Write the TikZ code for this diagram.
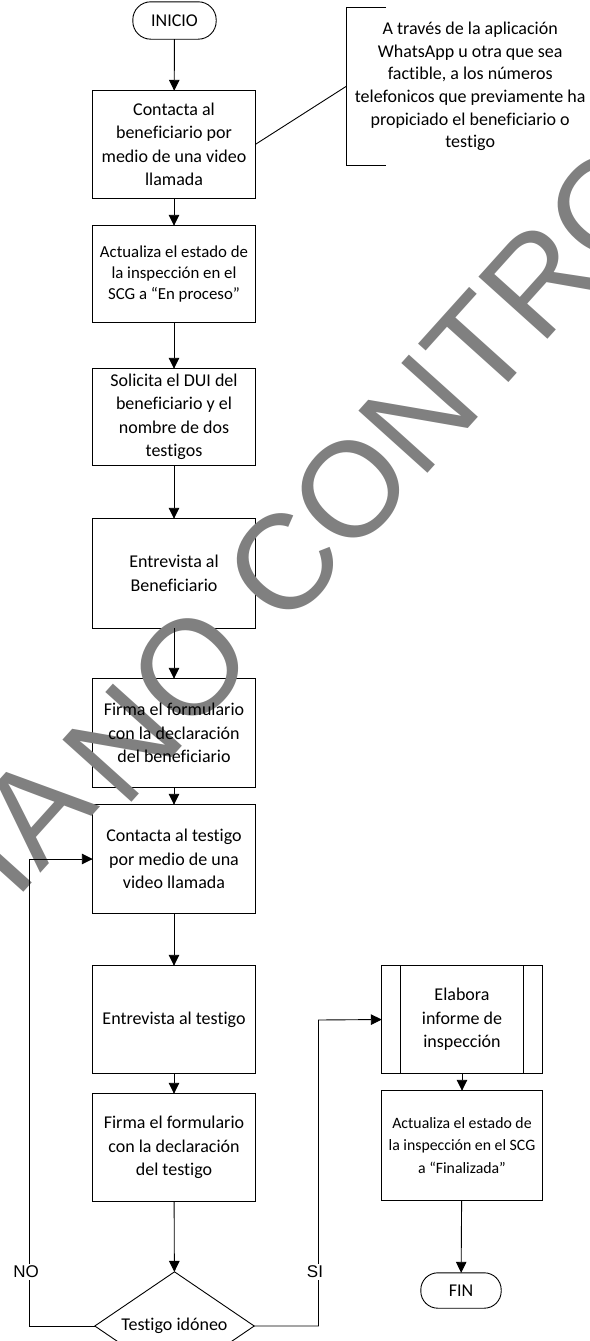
\documentclass[tikz,border=0pt]{standalone}
\usepackage{fontspec}
\setmainfont{Carlito}[Ligatures=NoCommon]
\newfontfamily\arialfont{Liberation Sans}
\usetikzlibrary{arrows.meta,shapes.geometric}
\pgfdeclarelayer{shapes}
\pgfdeclarelayer{mark}
\pgfsetlayers{shapes,mark,main}

\begin{document}
\begin{tikzpicture}[x=1pt,y=-1pt,
  line/.style={line width=0.9pt,black},
  arr/.style={line,-{Triangle[length=11pt,width=10.5pt]}},
  txt/.style={align=center,inner sep=0pt,font=\fontsize{18}{23.5}\selectfont},
  box/.style={txt,minimum width=162pt},
  wbox/.style={txt,minimum width=160pt},
  term/.style={txt,minimum width=#1},
  decision/.style={txt,shape=diamond,aspect=1.47,minimum width=159pt,minimum height=108pt},
  lbl/.style={font=\arialfont\fontsize{17}{17}\selectfont,fill=white,inner sep=1.5pt},
  wmark/.style={anchor=base west,rotate=48,inner sep=0pt,text=gray,
    font=\arialfont\fontsize{135}{135}\selectfont}
]
\useasboundingbox (0,0) rectangle (589,1341);

% ---------- main column ----------
\node[term=83pt,minimum height=37pt] (ini) at (174.5,20.5) {INICIO};
\node[box,minimum height=107pt] (b1) at (174,144.5)
  {Contacta al\\beneficiario por\\medio de una video\\llamada};
\node[box,minimum height=96pt,font=\fontsize{16.8}{21}\selectfont] (b2) at (174,274)
  {Actualiza el estado de\\la inspección en el\\SCG a “En proceso”};
\node[box,minimum height=96pt] (b3) at (174,417)
  {Solicita el DUI del\\beneficiario y el\\nombre de dos\\testigos};
\node[box,minimum height=109pt] (b4) at (174,573.5)
  {Entrevista al\\Beneficiario};
\node[box,minimum height=108pt] (b5) at (174,733)
  {Firma el formulario\\con la declaración\\del beneficiario};
\node[box,minimum height=108pt] (b6) at (174,859)
  {Contacta al testigo\\por medio de una\\video llamada};
\node[box,minimum height=107pt] (b7) at (174,1019.5)
  {Entrevista al testigo};
\node[box,minimum height=107pt] (b8) at (174,1147.5)
  {Firma el formulario\\con la declaración\\del testigo};
\node[decision] (dec) at (174.5,1326) {Testigo idóneo};

% ---------- right column ----------
\node[wbox,minimum height=107pt] (sub) at (462,1019.5)
  {Elabora\\informe de\\inspección};
\node[wbox,minimum height=109pt,font=\fontsize{15.8}{22.5}\selectfont] (fbox) at (462,1145.5)
  {Actualiza el estado de\\la inspección en el SCG\\a “Finalizada”};
\node[term=80pt,minimum height=35pt] (fin) at (461,1290.5) {FIN};

% ---------- annotation ----------
\node[txt,anchor=west,minimum width=248pt,minimum height=157pt,
  font=\fontsize{18}{22.6}\selectfont] (ann) at (346,86.5)
  {A través de la aplicación\\WhatsApp u otra que sea\\factible, a los números\\telefonicos que previamente ha\\propiciado el beneficiario o\\testigo};

% ---------- outlines ----------
\begin{pgfonlayer}{shapes}
  \foreach \n in {b1,b2,b3,b4,b5,b6,b7,b8,sub,fbox}
    \draw[line] (\n.north west) rectangle (\n.south east);
  \draw[line] ([xshift=19pt]sub.north west) -- ([xshift=19pt]sub.south west);
  \draw[line] ([xshift=-19pt]sub.north east) -- ([xshift=-19pt]sub.south east);
  \draw[line,rounded corners=18pt] (ini.north west) rectangle (ini.south east);
  \draw[line,rounded corners=17pt] (fin.north west) rectangle (fin.south east);
  \draw[line] (dec.north) -- (dec.east) -- (dec.south) -- (dec.west) -- cycle;
  \draw[line] ([xshift=40pt]ann.north west) -- (ann.north west)
    -- (ann.south west) -- ([xshift=40pt]ann.south west);
\end{pgfonlayer}

% ---------- watermark ----------
\begin{pgfonlayer}{mark}
  \clip (0,0) rectangle (589,1341);
  \node[wmark] (wm) at (124.4,810.2)
    {\llap{\raisebox{20pt}{COPIA}\hspace{13pt}}NO CONTROLADA};
\end{pgfonlayer}

% ---------- connectors ----------
\draw[arr] (ini) -- (b1);
\draw[arr] (b1) -- (b2);
\draw[arr] (b2) -- (b3);
\draw[arr] (b3) -- (b4);
\draw[arr] (b4) -- (b5);
\draw[arr] (b5) -- (b6);
\draw[arr] (b6) -- (b7);
\draw[arr] (b7) -- (b8);
\draw[arr] (b8) -- (dec);
\draw[arr] (sub) -- (fbox);
\draw[arr] (fbox) -- (fin);
\draw[line] (b1.east) -- (ann.west);

\coordinate (nobend) at (29,859);
\coordinate (sibend) at (318.5,1020);
\draw[arr] (dec.west) -| (nobend) -- (b6.west);
\draw[arr] (dec.east) -| (sibend) -- (sub.west);
\node[lbl] (no) at (26,1272) {NO};
\node[lbl] (si) at (315,1272) {SI};
\end{tikzpicture}
\end{document}
